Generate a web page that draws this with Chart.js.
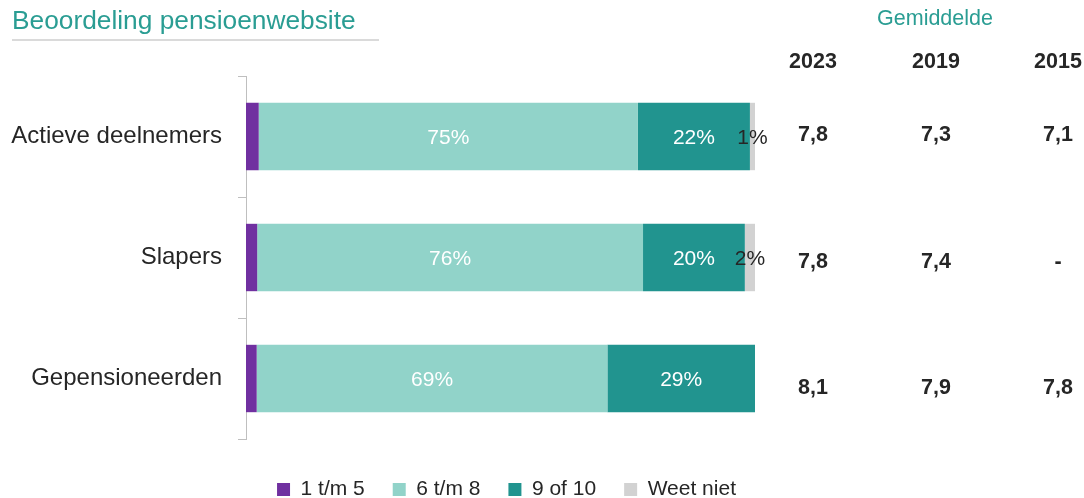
<!DOCTYPE html>
<html>
<head>
<meta charset="utf-8">
<script src="https://cdn.jsdelivr.net/npm/chart.js@4.4.0/dist/chart.umd.min.js"></script>
<style>
  html, body { margin: 0; padding: 0; background: #ffffff; }
  #wrap { width: 1084px; height: 498px; position: relative; }
</style>
</head>
<body>
<div id="wrap"><canvas id="chart" width="1084" height="498"></canvas></div>
<script>
const categories = ['Actieve deelnemers', 'Slapers', 'Gepensioneerden'];
const seriesNames = ['1 t/m 5', '6 t/m 8', '9 of 10', 'Weet niet'];
const score1to5 = [2.5, 2.2, 2.1];
const score6to8 = [74.5, 75.8, 68.9];
const score9to10 = [22, 20, 29];
const unknown = [1, 2, 0];
const colors = ['#7030a0', '#91d3c9', '#21948f', '#d2d2d2'];

const avgYears = ['2023', '2019', '2015'];
const avg2023 = [7.8, 7.8, 8.1];
const avg2019 = [7.3, 7.4, 7.9];
const avg2015 = [7.1, null, 7.8];

const FONT = "'Liberation Sans', Arial, sans-serif";
const TEAL = '#2a9d93';
const DARK = '#262626';

function fmtAvg(v) {
  return v === null ? '-' : v.toFixed(1).replace('.', ',');
}

// title + underline top left
const titlePlugin = {
  id: 'titleBlock',
  afterDraw(chart) {
    const ctx = chart.ctx;
    ctx.save();
    ctx.font = '26.3px ' + FONT;
    ctx.fillStyle = TEAL;
    ctx.textBaseline = 'alphabetic';
    ctx.textAlign = 'left';
    ctx.fillText('Beoordeling pensioenwebsite', 12, 29);
    ctx.strokeStyle = '#dadada';
    ctx.lineWidth = 2;
    ctx.beginPath();
    ctx.moveTo(12, 40);
    ctx.lineTo(379, 40);
    ctx.stroke();
    ctx.restore();
  }
};

// percentages inside the bars
const barLabels = {
  id: 'barLabels',
  afterDatasetsDraw(chart) {
    const ctx = chart.ctx;
    ctx.save();
    ctx.font = '21px ' + FONT;
    ctx.textAlign = 'center';
    ctx.textBaseline = 'middle';
    chart.data.datasets.forEach((ds, di) => {
      if (di === 0) return;
      const meta = chart.getDatasetMeta(di);
      meta.data.forEach((bar, i) => {
        const v = ds.data[i];
        if (!v) return;
        const p = bar.getProps(['x', 'y', 'base'], true);
        ctx.fillStyle = di === 3 ? DARK : '#ffffff';
        ctx.fillText(Math.round(v) + '%', (p.x + p.base) / 2, p.y + 2);
      });
    });
    ctx.restore();
  }
};

// Gemiddelde table on the right
const avgTable = {
  id: 'avgTable',
  afterDraw(chart) {
    const ctx = chart.ctx;
    const y = chart.scales.y;
    const cols = [813, 936, 1058];
    const rows = [avg2023, avg2019, avg2015];
    ctx.save();
    ctx.textAlign = 'center';
    ctx.textBaseline = 'middle';
    ctx.font = '21.5px ' + FONT;
    ctx.fillStyle = TEAL;
    ctx.fillText('Gemiddelde', 935, 19);
    ctx.font = 'bold 21.5px ' + FONT;
    ctx.fillStyle = DARK;
    avgYears.forEach((yr, c) => ctx.fillText(yr, cols[c], 62));
    rows.forEach((vals, c) => {
      vals.forEach((v, i) => {
        // table rows sit a little wider apart than the bars
        ctx.fillText(fmtAvg(v), cols[c], y.getPixelForValue(i) - 1 + i * 5.5);
      });
    });
    ctx.restore();
  }
};

// move the legend down and centre it under the bars
const legendShift = {
  id: 'legendShift',
  afterLayout(chart) {
    const lg = chart.legend;
    if (!lg) return;
    const h = lg.bottom - lg.top;
    lg.top = 451;
    lg.bottom = lg.top + h;
    lg.left += 129;
    lg.right += 129;
  }
};

new Chart(document.getElementById('chart'), {
  type: 'bar',
  data: {
    labels: categories,
    datasets: [score1to5, score6to8, score9to10, unknown].map((d, i) => ({
      label: seriesNames[i],
      data: d,
      backgroundColor: colors[i],
      borderWidth: 0,
      categoryPercentage: 1,
      barPercentage: 0.557
    }))
  },
  options: {
    indexAxis: 'y',
    responsive: false,
    animation: false,
    devicePixelRatio: 1,
    layout: { padding: { top: 76, right: 329, bottom: 0, left: 0 } },
    scales: {
      x: {
        stacked: true,
        display: false,
        min: 0,
        max: 100
      },
      y: {
        stacked: true,
        afterFit: (s) => { s.width = 246; },
        grid: {
          offset: true,
          drawOnChartArea: false,
          drawTicks: true,
          tickLength: 8,
          color: '#bfbfbf',
          lineWidth: 1
        },
        border: { display: true, color: '#bfbfbf', width: 1 },
        ticks: {
          padding: 16,
          color: DARK,
          font: { family: FONT, size: 24 }
        }
      }
    },
    plugins: {
      legend: {
        position: 'bottom',
        labels: {
          boxWidth: 13,
          boxHeight: 13,
          padding: 28,
          color: DARK,
          font: { family: FONT, size: 21 }
        }
      },
      tooltip: { enabled: false }
    }
  },
  plugins: [titlePlugin, barLabels, avgTable, legendShift]
});
</script>
</body>
</html>
